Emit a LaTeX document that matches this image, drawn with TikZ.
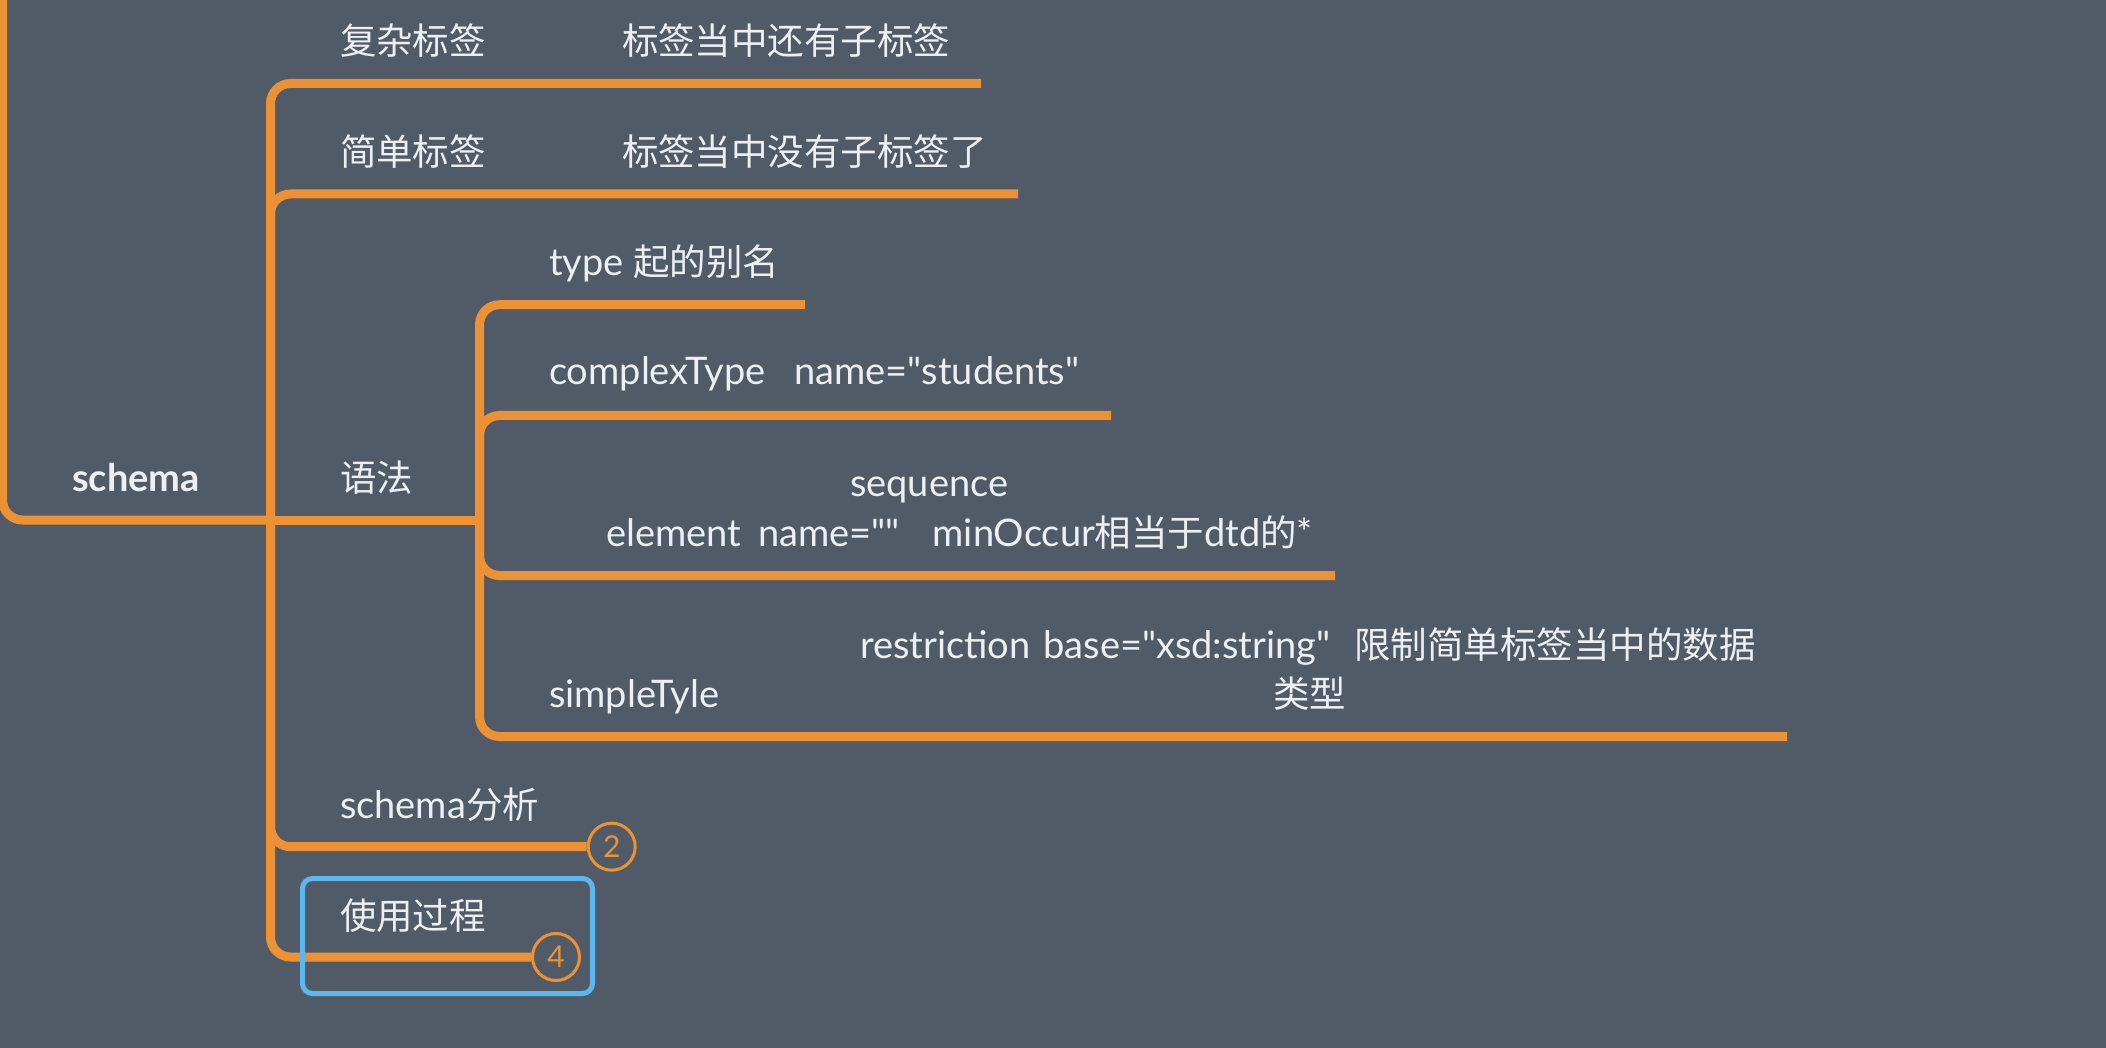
\documentclass[tikz,border=0pt]{standalone}
\usepackage{fontspec}
\newfontfamily\latin{Lato}
\newfontfamily\cjk[Scale=0.96]{Noto Sans CJK SC}
\definecolor{bgc}{RGB}{81,91,103}
\definecolor{org}{RGB}{236,146,52}
\definecolor{blu}{RGB}{92,183,240}
\definecolor{txt}{RGB}{236,240,245}
\newcommand{\gap}[1]{\hspace*{#1\dimexpr 0.5pt\relax}}
\tikzset{
  branch/.style={draw=org, line width=4.5pt, rounded corners=10pt},
  lbl/.style={text=txt, inner sep=0pt, outer sep=0pt, anchor=base west, font=\latin\fontsize{19}{22}\selectfont},
  rootlbl/.style={lbl, font=\latin\bfseries\fontsize{19}{22}\selectfont},
  numc/.style={circle, draw=org, line width=1.5pt, minimum size=23.5pt, inner sep=0pt, text=org, font=\latin\fontsize{15}{17}\selectfont},
  focusbox/.style={draw=blu, line width=2.5pt, rounded corners=5pt, minimum width=145pt, minimum height=57.5pt, inner sep=0pt}
}
\begin{document}
\begin{tikzpicture}[x=0.5pt,y=-0.5pt]
\useasboundingbox (0,0) rectangle (2106,1048);
\fill[bgc] (0,0) rectangle (2106,1048);

% hubs and underline ends
\coordinate (top) at (2.5,-20);
\coordinate (hub) at (270.5,520);
\coordinate (hubB) at (479.5,520);
\coordinate (e1) at (981,83.5);
\coordinate (e2) at (1018,194);
\coordinate (g1) at (805,304.7);
\coordinate (g2) at (1111,415.5);
\coordinate (g3) at (1335,575.5);
\coordinate (g4) at (1787,736.5);

% labels
\node[rootlbl] (schema) at (72,491) {schema};
\node[lbl] (fz) at (340,54.5) {\cjk 复杂标签};
\node[lbl] (fzd) at (622,54.5) {\cjk 标签当中还有子标签};
\node[lbl] (jd) at (340,165.5) {\cjk 简单标签};
\node[lbl] (jdd) at (622,165.5) {\cjk 标签当中没有子标签了};
\node[lbl] (yf) at (340,491) {\cjk 语法};
\node[lbl] (tp) at (549,276) {type {\cjk 起的别名}};
\node[lbl] (ct) at (549,385) {complexType\gap{29}name="students"};
\node[lbl] (sq) at (850,496) {sequence};
\node[lbl] (el) at (606,546) {element\gap{17}name=""\gap{33}minOccur{\cjk 相当于}dtd{\cjk 的}*};
\node[lbl] (rs) at (860,658) {restriction\gap{13}base="xsd:string"\gap{24}{\cjk 限制简单标签当中的数据}};
\node[lbl] (lx) at (1273,707) {\cjk 类型};
\node[lbl] (st) at (549,707) {simpleTyle};
\node[lbl] (fx) at (340,818) {schema{\cjk 分析}};
\node[lbl] (sy) at (340,929) {\cjk 使用过程};

\node[numc] (n2) at (611.7,846.7) {2};
\node[numc] (n4) at (556,957) {4};

% connectors
\draw[branch] (top) |- (hub);
\draw[branch] (hub) |- (e1);
\draw[branch] (hub) |- (e2);
\draw[branch] (hub) -- (hubB);
\draw[branch] (hub) |- (n2.west);
\draw[branch] (hub) |- (n4.west);
\draw[branch] (hubB) |- (g1);
\draw[branch] (hubB) |- (g2);
\draw[branch] (hubB) |- (g3);
\draw[branch] (hubB) |- (g4);

\node[focusbox] (fb) at (447.5,936) {};
\end{tikzpicture}
\end{document}
